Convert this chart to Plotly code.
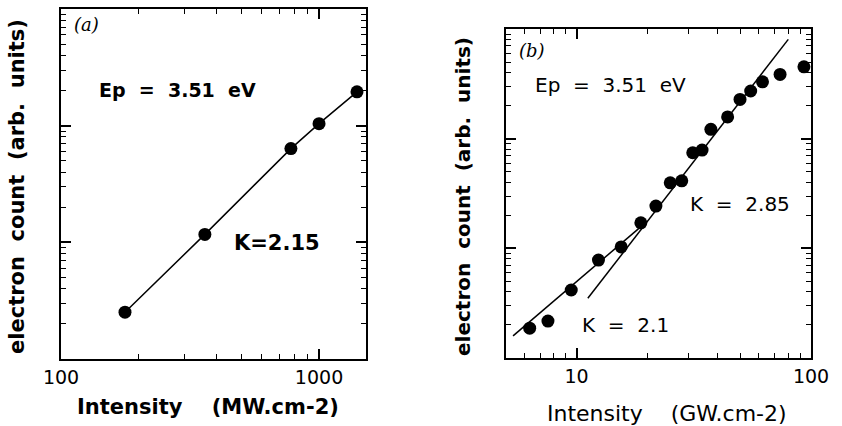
import plotly.graph_objects as go

# ---- data: panel (a) ----
a_intensity = [177, 361, 778, 1000, 1403]          # MW.cm-2
a_counts = [2.52, 11.7, 63.6, 104, 195]            # arb. units

# ---- data: panel (b) ----
b_intensity = [6.31, 7.55, 9.49, 12.4, 15.5, 18.8, 21.8, 25.1, 28.1, 31.3,
               34.3, 37.4, 44.1, 49.8, 55.3, 62.1, 73.8, 93.3]   # GW.cm-2
b_counts = [1.87, 2.17, 4.17, 7.82, 10.3, 17.1, 24.3, 39.6, 41.3, 74.4,
            78.7, 121.6, 158, 228, 272, 330, 385, 452]
# fit lines (K = 2.1 and K = 2.85)
fitA_x = [5.36, 18.5]
fitA_y = [1.59, 15.3]
fitB_x = [11.17, 80.0]
fitB_y = [3.5, 804]

a_xticks = [100, 1000]
a_xticklabels = ["100", "1000"]
b_xticks = [10, 100]
b_xticklabels = ["10", "100"]
y_major = [1, 10, 100, 1000]

W, H = 842, 426
fig = go.Figure()

fig.add_trace(go.Scatter(x=a_intensity, y=a_counts, mode="lines+markers",
                         line=dict(color="black", width=1.5),
                         marker=dict(color="black", size=13),
                         xaxis="x", yaxis="y", showlegend=False))
fig.add_trace(go.Scatter(x=fitA_x, y=fitA_y, mode="lines",
                         line=dict(color="black", width=1.5),
                         xaxis="x2", yaxis="y2", showlegend=False))
fig.add_trace(go.Scatter(x=fitB_x, y=fitB_y, mode="lines",
                         line=dict(color="black", width=1.5),
                         xaxis="x2", yaxis="y2", showlegend=False))
fig.add_trace(go.Scatter(x=b_intensity, y=b_counts, mode="markers",
                         marker=dict(color="black", size=13),
                         xaxis="x2", yaxis="y2", showlegend=False))


def minor_vals(lo_dec, hi_dec):
    return [m * 10 ** d for d in range(lo_dec, hi_dec + 1) for m in range(2, 10)]


def px_x(p):
    return p / W


def px_y(p):
    return 1 - p / H


tickfont = dict(family="DejaVu Sans", size=19, color="black")
main_ax = dict(type="log", showline=True, linecolor="black", linewidth=1.5,
               mirror=True, ticks="", showgrid=False, tickfont=tickfont)

a_xdom = [px_x(61), px_x(366)]
a_ydom = [px_y(359), px_y(9)]
b_xdom = [px_x(506), px_x(811)]
b_ydom = [px_y(358), px_y(29)]
a_xr, a_yr = [2, 3.182], [0, 3]
b_xr, b_yr = [0.699, 2.0], [0, 3]

layout = dict(
    width=W, height=H,
    margin=dict(l=0, r=0, t=0, b=0, autoexpand=False),
    paper_bgcolor="white", plot_bgcolor="white", showlegend=False,
    xaxis=dict(domain=a_xdom, range=a_xr, tickvals=a_xticks, ticktext=a_xticklabels,
               anchor="y", **main_ax),
    yaxis=dict(domain=a_ydom, range=a_yr, anchor="x", showticklabels=False, **main_ax),
    xaxis2=dict(domain=b_xdom, range=b_xr, tickvals=b_xticks, ticktext=b_xticklabels,
                anchor="y2", **main_ax),
    yaxis2=dict(domain=b_ydom, range=b_yr, anchor="x2", showticklabels=False, **main_ax),
)

# tick-only overlay axes, one per side and per tick kind (no mirroring)
helper = dict(mode="markers", marker=dict(opacity=0), showlegend=False, hoverinfo="skip")
counter = [3]


def tick_axis(kind, main_x, main_y, rng, vals, side, length, width, px0, py0):
    n = counter[0]
    counter[0] += 1
    spec = dict(type="log", range=rng, side=side, tickvals=vals, ticks="inside",
                ticklen=length, tickwidth=width, tickcolor="black",
                showgrid=False, showticklabels=False, showline=False)
    if kind == "x":
        spec.update(overlaying=main_x, anchor=main_y)
        layout["xaxis%d" % n] = spec
        fig.add_trace(go.Scatter(x=[px0], y=[py0], xaxis="x%d" % n, yaxis=main_y, **helper))
    else:
        spec.update(overlaying=main_y, anchor=main_x)
        layout["yaxis%d" % n] = spec
        fig.add_trace(go.Scatter(x=[px0], y=[py0], xaxis=main_x, yaxis="y%d" % n, **helper))


panels = [("x", "y", a_xr, a_yr, a_xticks, minor_vals(2, 3), minor_vals(0, 2),
           a_intensity[0], a_counts[0]),
          ("x2", "y2", b_xr, b_yr, b_xticks, minor_vals(0, 1), minor_vals(0, 2),
           b_intensity[0], b_counts[0])]
for mx, my, xr, yr, xmaj, xmin, ymin, p0, q0 in panels:
    for side in ("bottom", "top"):
        tick_axis("x", mx, my, xr, xmaj, side, 10, 1.5, p0, q0)
        tick_axis("x", mx, my, xr, xmin, side, 5, 1.3, p0, q0)
    for side in ("left", "right"):
        tick_axis("y", mx, my, yr, y_major, side, 10, 1.5, p0, q0)
        tick_axis("y", mx, my, yr, ymin, side, 5, 1.3, p0, q0)

fig.update_layout(**layout)

nb = "\u00a0"


def ann(text, x, y, font, angle=0, xanchor="center"):
    fig.add_annotation(text=text, x=px_x(x), y=px_y(y), xref="paper", yref="paper",
                       showarrow=False, font=font, textangle=angle,
                       xanchor=xanchor, yanchor="middle", borderpad=0)


def f(size, fam="DejaVu Sans"):
    return dict(family=fam, size=size, color="black")


# panel (a) texts
ann("<i>(a)</i>", 86, 25, f(18, "DejaVu Serif"))
ann("<b>Ep" + nb * 2 + "=" + nb * 2 + "3.51" + nb * 2 + "eV</b>", 177, 90, f(19))
ann("<b>K=2.15</b>", 277, 243, f(21))
ann("<b>Intensity" + nb * 4 + "(MW.cm-2)</b>", 208, 407, f(21))
ann("<b>electron" + nb * 2 + "count" + nb * 2 + "(arb." + nb * 2 + "units)</b>", 17, 187,
    f(21), angle=-90)

# panel (b) texts
ann("<i>(b)</i>", 532, 50, f(18, "DejaVu Serif"))
ann("Ep" + nb * 2 + "=" + nb * 2 + "3.51" + nb * 2 + "eV", 610, 85, f(20))
ann("K" + nb * 2 + "=" + nb * 2 + "2.85", 740, 204, f(20))
ann("K" + nb * 2 + "=" + nb * 2 + "2.1", 625, 325, f(20))
ann("Intensity" + nb * 4 + "(GW.cm-2)", 667, 413, f(22))
ann("<b>electron" + nb * 2 + "count" + nb * 2 + "(arb." + nb * 2 + "units)</b>", 463, 197,
    f(20), angle=-90)

fig.write_html("out.html")
